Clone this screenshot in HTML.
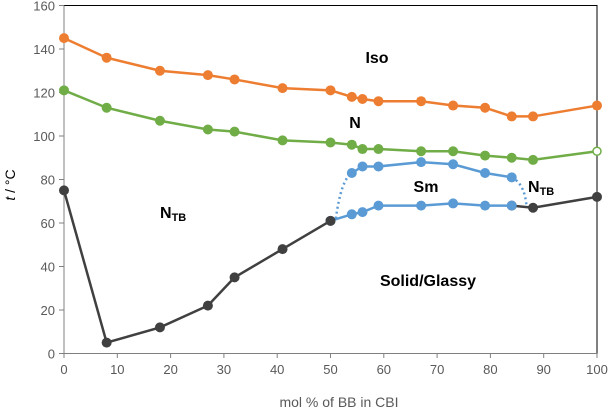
<!DOCTYPE html>
<html><head><meta charset="utf-8"><style>
body{margin:0;background:#fff}
svg{display:block;font-family:"Liberation Sans",sans-serif}
.t{font-size:13px;fill:#595959}
.lb{font-size:16px;font-weight:bold;fill:#000}
</style></head><body>
<svg id="c" width="611" height="409"></svg>
<script>
const xTicks=[0,10,20,30,40,50,60,70,80,90,100];
const yTicks=[0,20,40,60,80,100,120,140,160];
const isoX=[0,8,18,27,32,41,50,54,56,59,67,73,79,84,88,100];
const isoY=[145,136,130,128,126,122,121,118,117,116,116,114,113,109,109,114];
const nX=[0,8,18,27,32,41,50,54,56,59,67,73,79,84,88,100];
const nY=[121,113,107,103,102,98,97,96,94,94,93,93,91,90,89,93];
const solidX=[0,8,18,27,32,41,50];
const solidY=[75,5,12,22,35,48,61];
const solid2X=[84,88,100];
const solid2Y=[68,67,72];
const smUpX=[54,56,59,67,73,79,84];
const smUpY=[83,86,86,88,87,83,81];
const smLoX=[50,54,56,59,67,73,79,84];
const smLoY=[61,64,65,68,68,69,68,68];
const NS="http://www.w3.org/2000/svg";
const svg=document.getElementById('c');
const X=v=>64+v*5.33, Y=v=>353.5-v*2.175;
function mk(t,a,p){const e=document.createElementNS(NS,t);for(const k in a)e.setAttribute(k,a[k]);(p||svg).appendChild(e);return e;}
// frame
let fr=mk('rect',{x:64,y:5.5,width:533,height:348,fill:'none',stroke:'#000','stroke-width':1});


let ax=mk('line',{x1:64,y1:5.5,x2:64,y2:353.5,stroke:'#808080'});


let bx=mk('line',{x1:64,y1:353.5,x2:597,y2:353.5,stroke:'#808080'});


xTicks.forEach(v=>{mk('line',{x1:X(v),x2:X(v),y1:353.5,y2:358,stroke:'#808080'});
 const t=mk('text',{x:X(v),y:374,'text-anchor':'middle',class:'t'});t.textContent=v;
 
 });
yTicks.forEach(v=>{mk('line',{x1:59,x2:64,y1:Y(v),y2:Y(v),stroke:'#808080'});
 const t=mk('text',{x:55,y:Y(v)+5,'text-anchor':'end',class:'t'});t.textContent=v;
 
 });
function series(xs,ys,col,name,openLast){
 const g=mk('g',{});
 
 
 mk('polyline',{points:xs.map((x,i)=>X(x)+','+Y(ys[i])).join(' '),fill:'none',stroke:col,'stroke-width':2.5},g);
 xs.forEach((x,i)=>{const o=openLast&&i==xs.length-1;
  mk('circle',{cx:X(x),cy:Y(ys[i]),r:o?4:5,fill:o?'#fff':col,stroke:col,'stroke-width':o?1.5:0},g);});
}
// dotted curves
const d1=mk('path',{d:`M${X(51)},${Y(62)} Q${X(52)},${Y(80)} ${X(54)},${Y(83)}`,fill:'none',stroke:'#5b9bd5','stroke-width':2.5,'stroke-dasharray':'2 3'});


const d2=mk('path',{d:`M${X(84)},${Y(81)} Q${X(86.5)},${Y(78)} ${X(86.8)},${Y(67)}`,fill:'none',stroke:'#5b9bd5','stroke-width':2.5,'stroke-dasharray':'2 3'});


series(isoX,isoY,'#ed7d31','iso-series');
series(nX,nY,'#70ad47','n-series',true);
series(solid2X,solid2Y,'#404040','solid-series-right');
series(smLoX,smLoY,'#5b9bd5','sm-lower-series');
series(smUpX,smUpY,'#5b9bd5','sm-upper-series');
series(solidX,solidY,'#404040','solid-series');
</script>
<svg style="position:absolute;left:0;top:0" width="611" height="409">
<text class="lb" x="377" y="63" text-anchor="middle">Iso</text>
<text class="lb" x="355" y="128" text-anchor="middle">N</text>
<text class="lb" x="426" y="192" text-anchor="middle">Sm</text>
<text class="lb" x="528" y="192">N<tspan font-size="11" dy="3">TB</tspan></text>
<text class="lb" x="160" y="218">N<tspan font-size="11" dy="3">TB</tspan></text>
<text class="lb" x="428" y="286" text-anchor="middle">Solid/Glassy</text>
<text class="t" x="339" y="407" text-anchor="middle" style="font-size:14px">mol % of BB in CBI</text>
<text class="t" transform="translate(15,185) rotate(-90)" text-anchor="middle" style="font-size:14px;fill:#000"><tspan font-style="italic">t</tspan> / °C</text>
</svg>
</body></html>
